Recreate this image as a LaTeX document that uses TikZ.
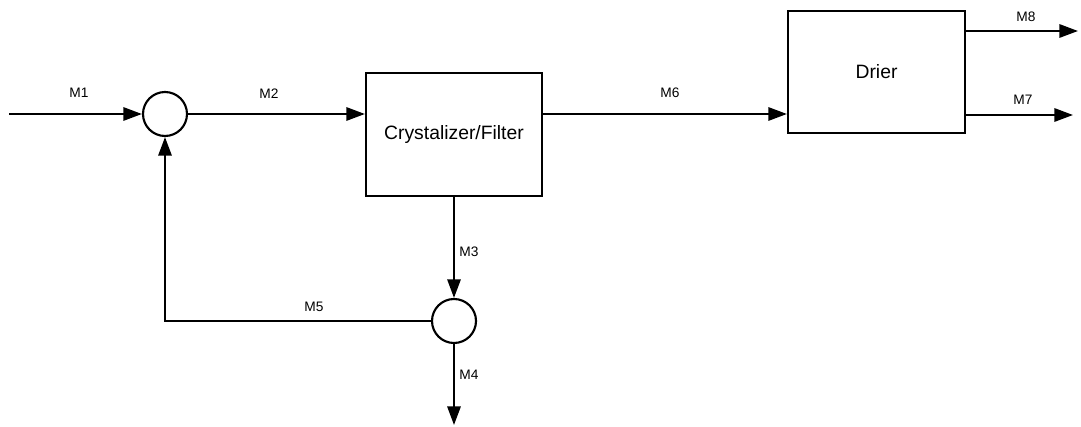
\documentclass[tikz,border=0pt]{standalone}
\usepackage{fontspec}
\setmainfont{Liberation Sans}
\usetikzlibrary{arrows.meta}
\begin{document}
\begin{tikzpicture}[x=0.75pt,y=-0.75pt,
  unit/.style={draw,line width=1.6pt,inner sep=0pt,font=\fontsize{14.5}{16}\selectfont},
  junction/.style={draw,circle,line width=1.6pt,inner sep=0pt,minimum size=33pt},
  flow/.style={line width=1.6pt,-{Triangle[length=14pt,width=10pt]}},
  lbl/.style={inner sep=0pt,font=\fontsize{10.3}{12}\selectfont}]
\useasboundingbox (0,0) rectangle (1081,427);
% units
\node[junction] (mix) at (165,114) {};
\node[junction] (split) at (454,321) {};
\node[unit,minimum width=132pt,minimum height=92.25pt] (cryst) at (454,134.5) {Crystalizer/Filter};
\node[unit,minimum width=132.75pt,minimum height=91.5pt] (drier) at (876.5,72) {Drier};
% free ends
\coordinate (feed) at (9,114);
\coordinate (m8end) at (1078,31);
\coordinate (m7end) at (1073,115);
\coordinate (m4end) at (454,425);
\coordinate (m8start) at (966,31);
\coordinate (m7start) at (966,115);
% streams
\draw[flow] (feed) -- (mix.west);
\draw[flow] (mix.east) -- (mix.east -| cryst.west);
\draw[flow] (mix.east -| cryst.east) -- (mix.east -| drier.west);
\draw[flow] (m8start -| drier.east) -- (m8end);
\draw[flow] (m7start -| drier.east) -- (m7end);
\draw[flow] (cryst.south) -- (split.north);
\draw[flow] (split.south) -- (m4end);
\draw[flow] (split.west) -| (mix.south);
% labels
\node[lbl] (l1) at (79,93) {M1};
\node[lbl] (l2) at (269,94) {M2};
\node[lbl] (l6) at (670,93) {M6};
\node[lbl] (l8) at (1026,17) {M8};
\node[lbl] (l7) at (1023,100) {M7};
\node[lbl] (l3) at (469,252) {M3};
\node[lbl] (l4) at (469,375) {M4};
\node[lbl] (l5) at (314,307) {M5};
\end{tikzpicture}
\end{document}
